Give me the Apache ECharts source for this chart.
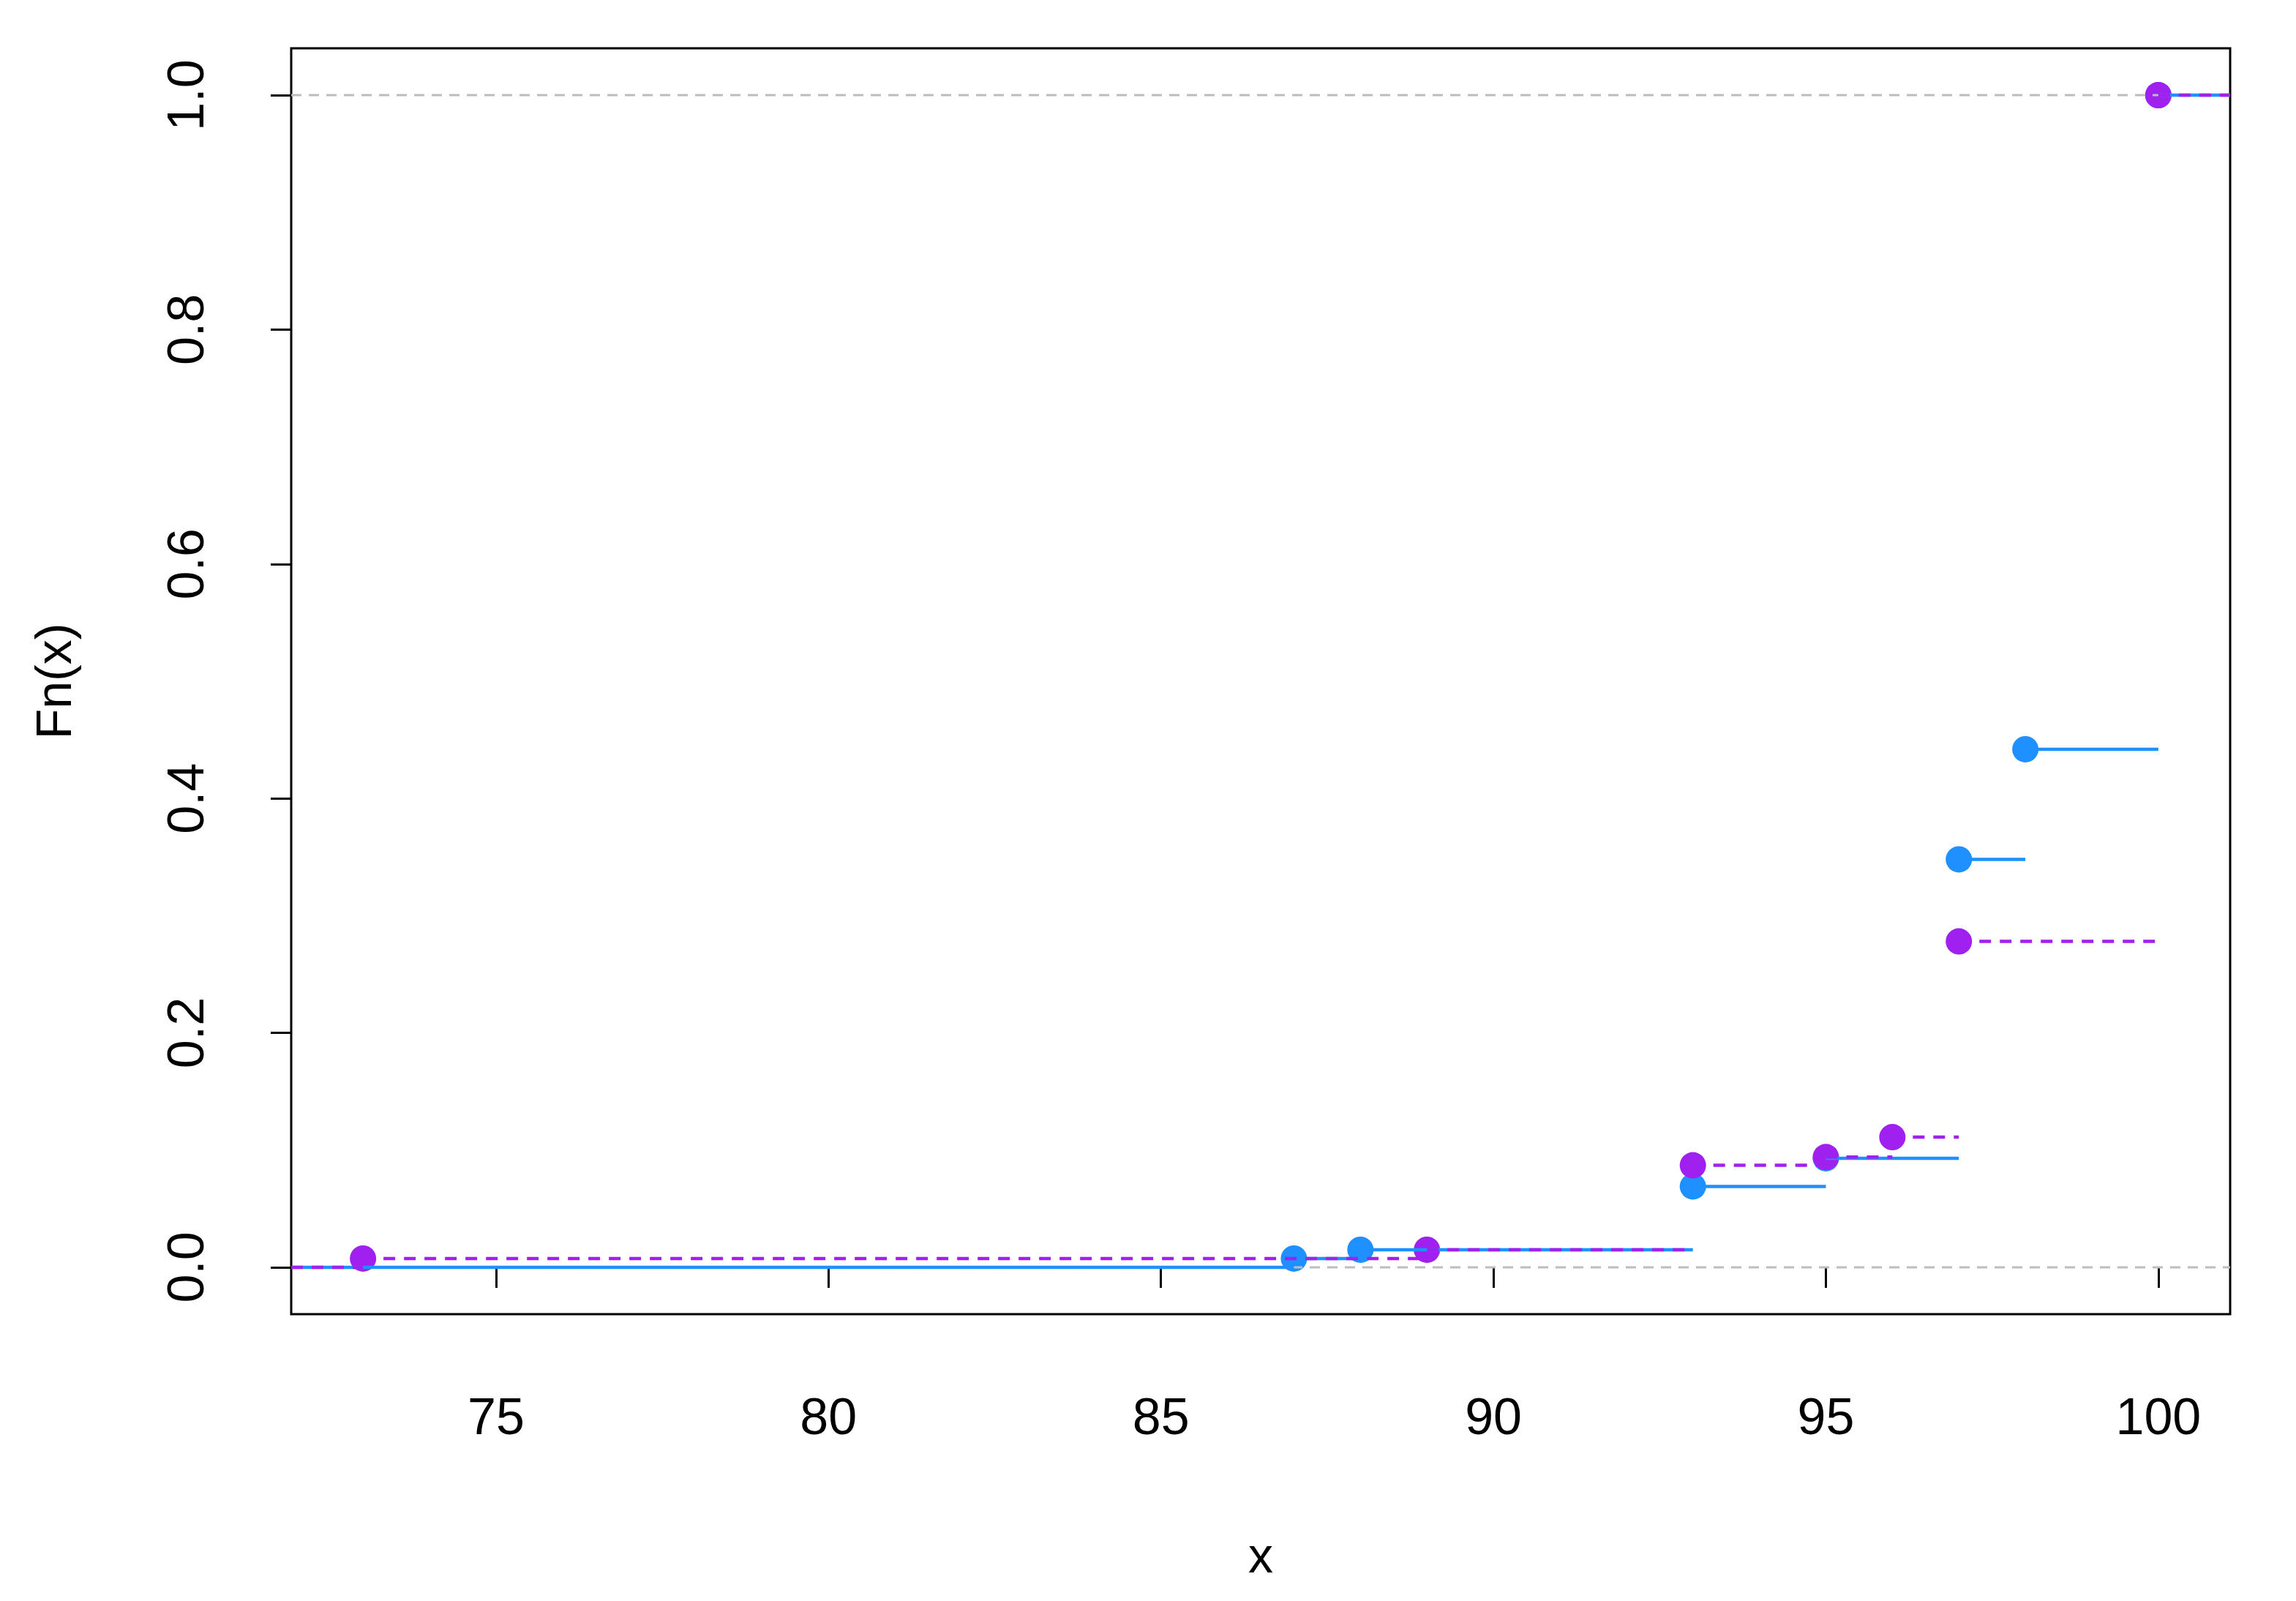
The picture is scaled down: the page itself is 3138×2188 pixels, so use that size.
<!DOCTYPE html>
<html>
<head>
<meta charset="utf-8">
<script src="https://cdn.jsdelivr.net/npm/echarts@6/dist/echarts.min.js"></script>
<style>html,body{margin:0;padding:0;background:#fff}#chart{width:3138px;height:2188px}</style>
</head>
<body>
<div id="chart"></div>
<script>
// 两组经验分布函数的跳跃点
var purpleX = [73, 89, 93, 95, 96, 97, 100];
var purpleY = [0.0075, 0.015, 0.087, 0.094, 0.111, 0.278, 1.0];
var blueX = [87, 88, 93, 95, 97, 98, 100];
var blueY = [0.0075, 0.015, 0.069, 0.093, 0.348, 0.442, 1.0];
var xTicks = [75, 80, 85, 90, 95, 100];
var yTicks = [0, 0.2, 0.4, 0.6, 0.8, 1.0];
var xMin = 71.92, xMax = 101.08;

// 阶梯线段：每个点到下一个点，中间用 '-' 断开
function steps(xs, ys) {
    var d = [[xMin, 0], [xs[0], 0], [xs[0], '-']];
    for (var i = 0; i < xs.length; i++) {
        var end = i < xs.length - 1 ? xs[i + 1] : xMax;
        d.push([xs[i], ys[i]], [end, ys[i]], [end, '-']);
    }
    return d;
}
function points(xs, ys) {
    return xs.map(function (x, i) { return [x, ys[i]]; });
}

var chart = echarts.init(document.getElementById('chart'));
chart.setOption({
    animation: false,
    grid: {left: 398, right: 90, top: 66, bottom: 392, show: true, borderColor: '#000', borderWidth: 3},
    xAxis: {
        type: 'value', min: xMin, max: xMax,
        name: 'x', nameLocation: 'middle', nameGap: 300,
        nameTextStyle: {fontSize: 68, color: '#000', fontFamily: 'Liberation Sans'},
        axisLine: {show: false},
        axisTick: {show: true, length: 28, lineStyle: {color: '#000', width: 3}, customValues: xTicks},
        axisLabel: {fontSize: 70, color: '#000', margin: 110, fontFamily: 'Liberation Sans', customValues: xTicks},
        splitLine: {show: false}
    },
    yAxis: {
        type: 'value', min: -0.04, max: 1.04,
        name: 'Fn(x)', nameLocation: 'middle', nameGap: 286, nameRotate: 90,
        nameTextStyle: {fontSize: 68, color: '#000', fontFamily: 'Liberation Sans'},
        axisLine: {show: false},
        axisTick: {show: true, length: 28, lineStyle: {color: '#000', width: 3}, customValues: yTicks},
        axisLabel: {fontSize: 70, color: '#000', margin: 104, rotate: 90, fontFamily: 'Liberation Sans',
            customValues: yTicks, formatter: function (v) { return v.toFixed(1); }},
        splitLine: {show: false}
    },
    series: [
        {type: 'line', data: [[xMin, 0], [xMax, 0], [xMax, '-'], [xMin, 1], [xMax, 1]], symbol: 'none',
            lineStyle: {color: '#bdbdbd', width: 3, type: [14, 10]}, silent: true},
        {type: 'line', data: steps(blueX, blueY), symbol: 'none', connectNulls: false,
            lineStyle: {color: '#1E90FF', width: 4.5}},
        {type: 'scatter', data: points(blueX, blueY), symbolSize: 36, itemStyle: {color: '#1E90FF', opacity: 1}},
        {type: 'line', data: steps(purpleX, purpleY), symbol: 'none', connectNulls: false,
            lineStyle: {color: '#A020F0', width: 4.5, type: [16, 12]}},
        {type: 'scatter', data: points(purpleX, purpleY), symbolSize: 36, itemStyle: {color: '#A020F0', opacity: 1}}
    ]
});
</script>
</body>
</html>
